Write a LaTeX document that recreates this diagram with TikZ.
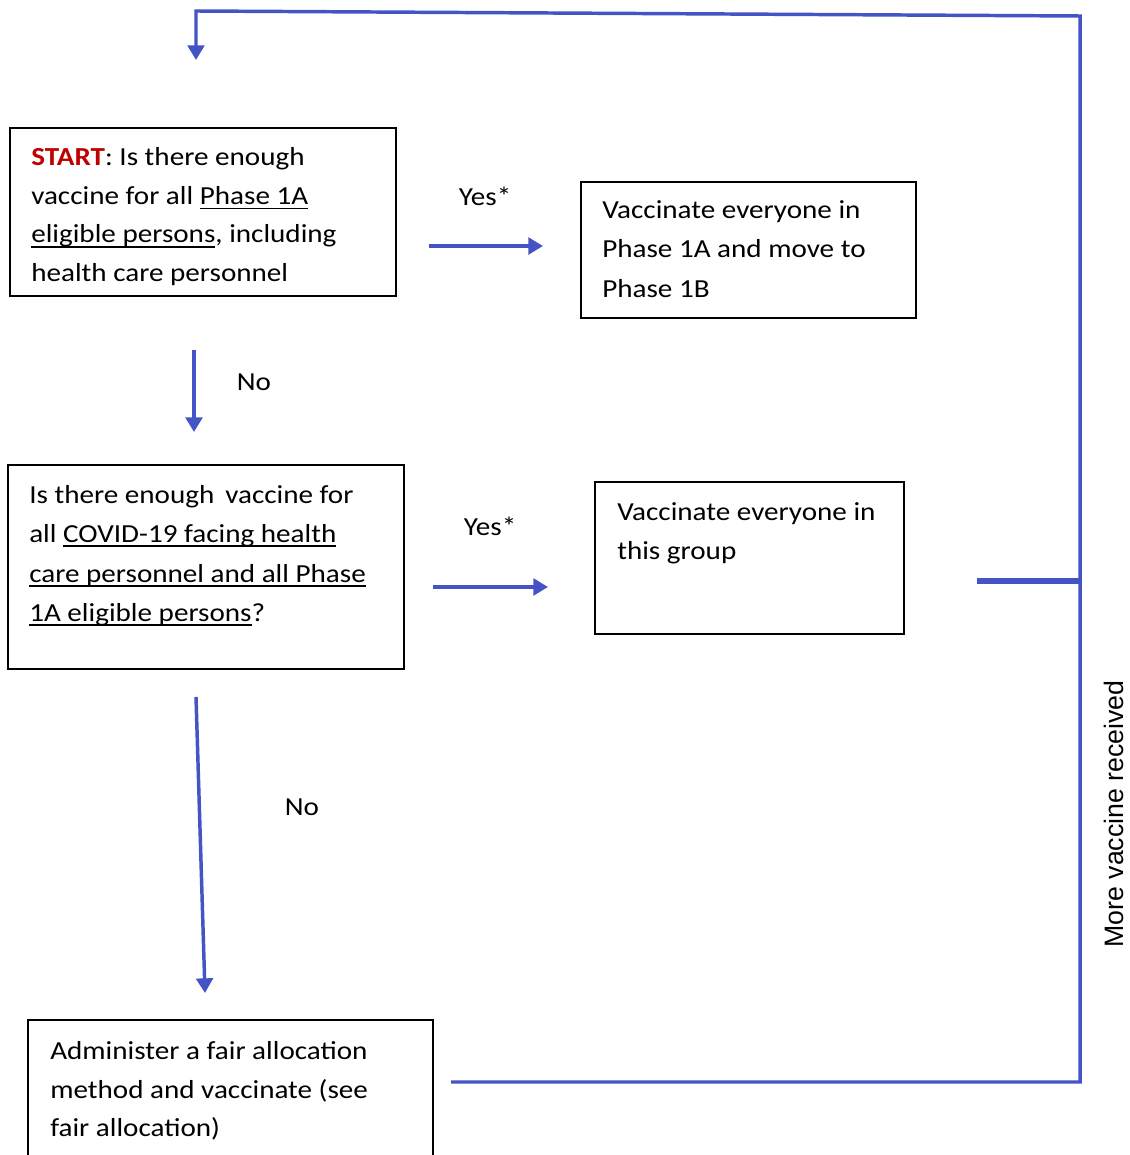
\documentclass[tikz,border=0pt]{standalone}
\usepackage{fontspec}
\setmainfont{Carlito}[FakeStretch=1.12]
\newfontfamily\arialf{Liberation Sans}
\usetikzlibrary{arrows.meta,fit}
\definecolor{flowblue}{RGB}{68,84,196}
\definecolor{startred}{RGB}{192,0,0}
\newcommand\ulc[1]{\setbox0\hbox{#1}\rlap{\rule[-3.4pt]{\wd0}{0.9pt}}\box0}
\begin{document}
\begin{tikzpicture}[x=0.75pt,y=-0.75pt,
  box/.style={draw=black, line width=1.1pt, inner sep=0pt},
  txt/.style={anchor=base west, inner sep=0pt, font=\fontsize{19.5}{23}\selectfont},
  lbl/.style={anchor=base, inner sep=0pt, font=\fontsize{19.5}{23}\selectfont},
  flow/.style={draw=flowblue, line width=2.6pt},
  arr/.style={flow, -{Triangle[width=12.5pt,length=11pt]}}]
\clip (0,0) rectangle (1129,1155);
\fill[white] (0,0) rectangle (1129,1155);

% boxes
\node[box, fit={(10,128) (396,296)}] (b1) {};
\node[box, fit={(581,182) (916,318)}] (b2) {};
\node[box, fit={(8,465) (404,669)}] (b3) {};
\node[box, fit={(595,482) (904,634)}] (b4) {};
\node[box, fit={(28,1020) (433,1175)}] (b5) {};

% box 1 text
\node[txt] (t1a) at (31,166) {\textcolor{startred}{\textbf{START}}: Is there enough};
\node[txt] (t1b) at (31,204.5) {vaccine for all \ulc{Phase 1A}};
\node[txt] (t1c) at (31,243) {\ulc{eligible persons}, including};
\node[txt] (t1d) at (31,281.5) {health care personnel};

% box 2 text
\node[txt] (t2a) at (602,219) {Vaccinate everyone in};
\node[txt] (t2b) at (602,258) {Phase 1A and move to};
\node[txt] (t2c) at (602,297) {Phase 1B};

% box 3 text
\node[txt] (t3a) at (29,503) {Is there enough\, vaccine for};
\node[txt] (t3b) at (29,542) {all \ulc{COVID-19 facing health}};
\node[txt] (t3c) at (29,582) {\ulc{care personnel and all Phase}};
\node[txt] (t3d) at (29,621) {\ulc{1A eligible persons}?};

% box 4 text
\node[txt] (t4a) at (617,520) {Vaccinate everyone in};
\node[txt] (t4b) at (617,559) {this group};

% box 5 text
\node[txt] (t5a) at (50,1059) {Administer a fair allocation};
\node[txt] (t5b) at (50,1098) {method and vaccinate (see};
\node[txt] (t5c) at (50,1136.5) {fair allocation)};

% labels
\node[lbl] (y1) at (485,206) {Yes*};
\node[lbl] (n1) at (254,390) {No};
\node[lbl] (y2) at (490,535) {Yes*};
\node[lbl] (n2) at (302,815) {No};
\node[rotate=90, inner sep=0pt, font=\arialf\fontsize{20}{24}\selectfont] (mv) at (1114,814) {More vaccine received};

% arrow end points
\coordinate (y1s) at (429,246); \coordinate (y1e) at (543,246);
\coordinate (n1s) at (194,350); \coordinate (n1e) at (194,432);
\coordinate (y2s) at (433,587); \coordinate (y2e) at (548,587);
\coordinate (n2s) at (196,697); \coordinate (n2e) at (205,993);
\coordinate (js) at (977,581); \coordinate (jr) at (1080,581);
\coordinate (lb) at (451,1082); \coordinate (rb) at (1080,1082);
\coordinate (rt) at (1080,16); \coordinate (lt) at (196,11);
\coordinate (le) at (196,60);

\draw[arr] (y1s) -- (y1e);
\draw[arr] (n1s) -- (n1e);
\draw[arr] (y2s) -- (y2e);
\draw[arr] (n2s) -- (n2e);
\draw[flow, line width=3.8pt] (js) -- (jr);
\draw[arr, line join=miter] (lb) -- (rb) -- (rt) -- (lt) -- (le);
\end{tikzpicture}
\end{document}
